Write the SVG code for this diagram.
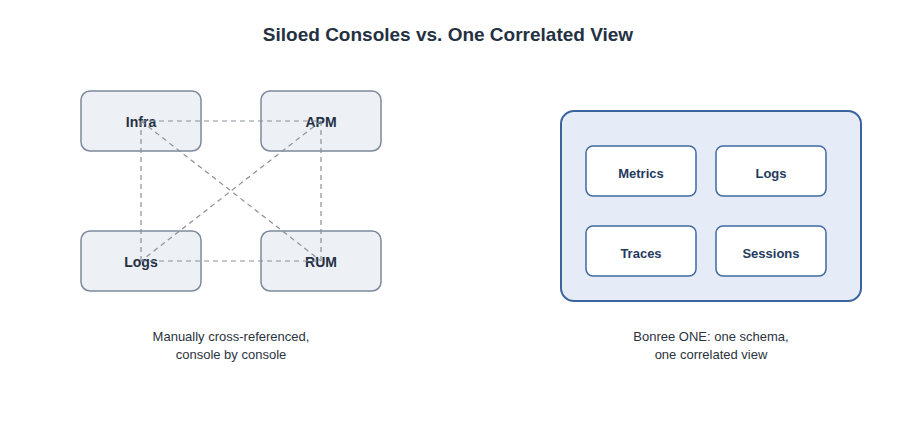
<svg xmlns="http://www.w3.org/2000/svg" width="901" height="421" viewBox="0 0 901 421">
<style>
text{font-family:"Liberation Sans",Arial,sans-serif;text-anchor:middle}
.t{font-size:19px;font-weight:bold;fill:#243142}
.sil{fill:#edf0f4;stroke:#7d899b;stroke-width:1.5}
.lb{font-size:14px;font-weight:bold;fill:#243142}
.sm{font-size:13px;font-weight:bold;fill:#253a5c}
.cap{font-size:13px;fill:#2b3340}
.in{fill:#fff;stroke:#3f6aa3;stroke-width:1.5}
.c{stroke:#8a8f98;stroke-width:1.2;stroke-dasharray:5 4;fill:none}
</style>
<rect width="901" height="421" fill="#fff"/>
<text class="t" x="448" y="41">Siloed Consoles vs. One Correlated View</text>
<g id="infra"><rect class="sil" x="81" y="91" width="120" height="60" rx="9"/></g>
<g id="apm"><rect class="sil" x="261" y="91" width="120" height="60" rx="9"/></g>
<g id="logs"><rect class="sil" x="81" y="231" width="120" height="60" rx="9"/></g>
<g id="rum"><rect class="sil" x="261" y="231" width="120" height="60" rx="9"/></g>
<g id="labels">
<text class="lb" x="141" y="127">Infra</text>
<text class="lb" x="321" y="127">APM</text>
<text class="lb" x="141" y="267">Logs</text>
<text class="lb" x="321" y="267">RUM</text>
</g>
<g id="connectors">
<line class="c" x1="141" y1="121" x2="321" y2="121"/>
<line class="c" x1="141" y1="261" x2="321" y2="261"/>
<line class="c" x1="141" y1="121" x2="141" y2="261"/>
<line class="c" x1="321" y1="121" x2="321" y2="261"/>
<line class="c" x1="141" y1="121" x2="321" y2="261"/>
<line class="c" x1="321" y1="121" x2="141" y2="261"/>
</g>
<g id="one"><rect x="561" y="111" width="300" height="190" rx="13" fill="#e6ecf7" stroke="#3a64a0" stroke-width="2"/></g>
<g id="metrics"><rect class="in" x="586" y="146" width="110" height="50" rx="7"/><text class="sm" x="641" y="178">Metrics</text></g>
<g id="logs2"><rect class="in" x="716" y="146" width="110" height="50" rx="7"/><text class="sm" x="771" y="178">Logs</text></g>
<g id="traces"><rect class="in" x="586" y="226" width="110" height="50" rx="7"/><text class="sm" x="641" y="258">Traces</text></g>
<g id="sessions"><rect class="in" x="716" y="226" width="110" height="50" rx="7"/><text class="sm" x="771" y="258">Sessions</text></g>
<text class="cap" x="231" y="341">Manually cross-referenced,</text>
<text class="cap" x="231" y="359">console by console</text>
<text class="cap" x="711" y="341">Bonree ONE: one schema,</text>
<text class="cap" x="711" y="359">one correlated view</text>
</svg>
